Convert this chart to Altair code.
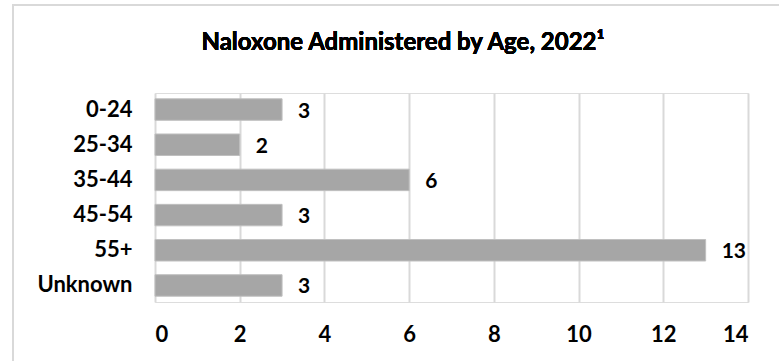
import altair as alt
import pandas as pd

categories = ["0-24", "25-34", "35-44", "45-54", "55+", "Unknown"]
values = [3, 2, 6, 3, 13, 3]
x_ticks = [0, 2, 4, 6, 8, 10, 12, 14]
title_text = "Naloxone Administered by Age, 2022¹"

df = pd.DataFrame({"age": categories, "count": values})

FONT = "Lato"
W, H = 593, 209

base = alt.Chart(df).encode(
    y=alt.Y("age:N", sort=categories, title=None,
            scale=alt.Scale(paddingInner=0.39, paddingOuter=0.165),
            axis=alt.Axis(labelFont=FONT, labelFontSize=22, labelFontWeight="bold",
                          labelColor="#000000", labelPadding=23, ticks=False,
                          domain=False, grid=False)),
)

bars = base.mark_bar(color="#a6a6a6", stroke="#bfbfbf", strokeWidth=1).encode(
    x=alt.X("count:Q", title=None,
            scale=alt.Scale(domain=[0, 14], nice=False),
            axis=alt.Axis(values=x_ticks, labelFont=FONT, labelFontSize=22,
                          labelFontWeight="bold", labelColor="#000000",
                          labelPadding=22, ticks=False, domain=False,
                          grid=True, gridColor="#d9d9d9", gridWidth=2))
)

labels = base.mark_text(align="left", baseline="middle", dx=16, dy=2, font=FONT,
                        fontSize=21, fontWeight="bold", color="#000000").encode(
    x="count:Q", text="count:Q"
)

frame = alt.Chart(df).mark_rect(fill=None, stroke="#d9d9d9", strokeWidth=2, clip=False).encode(
    x=alt.value(-142), x2=alt.value(640), y=alt.value(-88), y2=alt.value(280)
)

title = alt.Chart(df).mark_text(text=title_text, font=FONT, fontSize=24, fontWeight="bold",
                                color="#000000", align="center", baseline="middle").encode(
    x=alt.value(248), y=alt.value(-50)
)

chart = alt.layer(frame, bars, labels, title).properties(
    width=W, height=H,
    autosize=alt.AutoSizeParams(type="none"),
    padding={"left": 155, "top": 93, "right": 31, "bottom": 59},
).configure_view(stroke="#d9d9d9", strokeWidth=2).configure(background="#ffffff")

chart.save("out.html", embed_options={"renderer": "svg", "actions": False})
